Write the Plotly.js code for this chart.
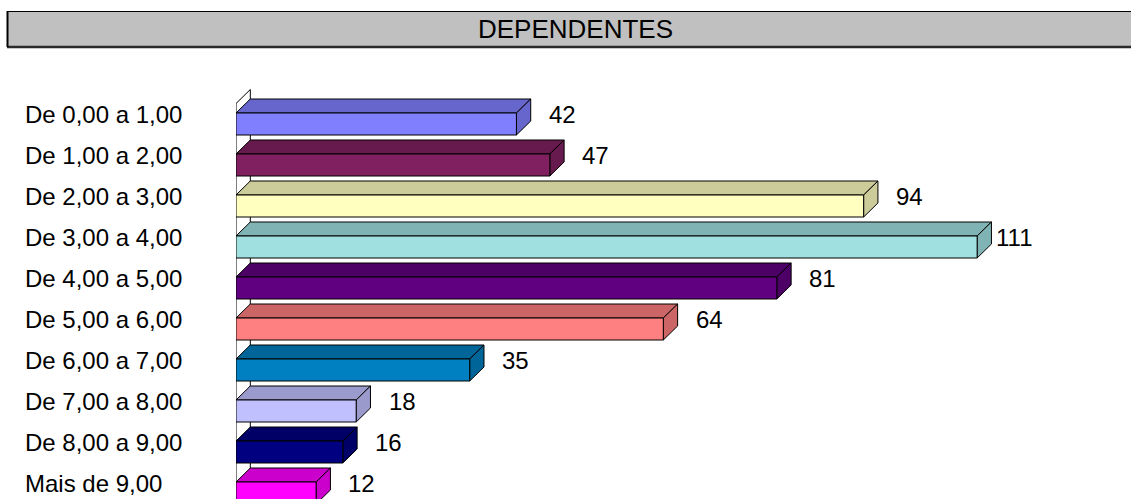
<!DOCTYPE html>
<html>
<head>
<meta charset="utf-8">
<script src="https://cdn.plot.ly/plotly-3.0.1.min.js"></script>
<style>
  html, body { margin: 0; padding: 0; background: #ffffff; }
  #chart { width: 1131px; height: 499px; }
</style>
</head>
<body>
<div id="chart"></div>
<script>
// ---- data ----
const categories = ['De 0,00 a 1,00', 'De 1,00 a 2,00', 'De 2,00 a 3,00', 'De 3,00 a 4,00', 'De 4,00 a 5,00',
                    'De 5,00 a 6,00', 'De 6,00 a 7,00', 'De 7,00 a 8,00', 'De 8,00 a 9,00', 'Mais de 9,00'];
const values = [42, 47, 94, 111, 81, 64, 35, 18, 16, 12];
const valueLabels = ['42', '47', '94', '111', '81', '64', '35', '18', '16', '12'];
const titleText = 'DEPENDENTES';

// ---- style ----
const frontColors = ['#8080FF', '#802060', '#FFFFC0', '#A0E0E0', '#600080',
                     '#FF8080', '#0080C0', '#C0C0FF', '#000080', '#FF00FF'];
const FONT = 'Liberation Sans, Arial, Helvetica, sans-serif';
const ML = 236, MR = 27, MT = 60, MB = 0, W = 1131, H = 499;
const XMAX = 130;                 // x range
const Y_TOP = -1.561, Y_BOT = 9.1463;
const pxPerX = (W - ML - MR) / XMAX;
const DX = 14.3 / pxPerX;         // depth in x units
const DY = 14 / 41;               // depth in y units (row = 41px)
const BH = 22 / 41;               // front face height in row units
const LABEL_GAP = 2.4;            // gap after bar back edge (x units)
const LABEL_MAX = 113.5;          // labels kept inside chart area

function shade(hex, f) {
  const n = parseInt(hex.slice(1), 16);
  const r = Math.round(((n >> 16) & 255) * f);
  const g = Math.round(((n >> 8) & 255) * f);
  const b = Math.round((n & 255) * f);
  return 'rgb(' + r + ',' + g + ',' + b + ')';
}

const traces = [];
function poly(xs, ys, fill) {
  traces.push({
    type: 'scatter', mode: 'lines', x: xs, y: ys, fill: 'toself',
    fillcolor: fill, line: { color: '#000000', width: 1 },
    hoverinfo: 'skip', showlegend: false
  });
}

// back wall
poly([0, DX, DX, 0, 0], [-0.5, -0.5 - DY, Y_BOT + 1, Y_BOT + 1, -0.5], '#ffffff');

// 3D bars
values.forEach((v, i) => {
  const top = i - BH / 2, bot = i + BH / 2;
  const dark = shade(frontColors[i], 0.8);
  // top face
  poly([0, DX, v + DX, v, 0], [top, top - DY, top - DY, top, top], dark);
  // side face
  poly([v, v + DX, v + DX, v, v], [top, top - DY, bot - DY, bot, top], dark);
  // front face
  poly([0, v, v, 0, 0], [top, top, bot, bot, top], frontColors[i]);
});

const annotations = [];
categories.forEach((c, i) => {
  annotations.push({
    text: c, xref: 'paper', yref: 'y', x: (23 - ML) / (W - ML - MR), y: i,
    xanchor: 'left', yanchor: 'middle', yshift: 10, showarrow: false,
    font: { family: FONT, size: 24, color: '#000000' }
  });
});
values.forEach((v, i) => {
  annotations.push({
    text: valueLabels[i], xref: 'x', yref: 'y',
    x: Math.min(v + DX + LABEL_GAP, LABEL_MAX), y: i,
    xanchor: 'left', yanchor: 'middle', yshift: 10, showarrow: false,
    font: { family: FONT, size: 24, color: '#000000' }
  });
});

const plotH = H - MT - MB, plotW = W - ML - MR;
const px2paperX = p => (p - ML) / plotW;
const px2paperY = p => (H - MB - p) / plotH;

const layout = {
  width: W, height: H,
  margin: { l: ML, r: MR, t: MT, b: MB, pad: 0 },
  paper_bgcolor: '#ffffff', plot_bgcolor: 'rgba(0,0,0,0)',
  showlegend: false, hovermode: false,
  title: {
    text: titleText, xref: 'container', yref: 'container',
    x: 575.5 / W, y: 1 - 29 / H, xanchor: 'center', yanchor: 'middle',
    font: { family: FONT, size: 26, color: '#000000' }
  },
  xaxis: { range: [0, XMAX], visible: false, fixedrange: true },
  yaxis: { range: [Y_BOT, Y_TOP], visible: false, fixedrange: true },
  shapes: [
    { type: 'rect', xref: 'paper', yref: 'paper', layer: 'below',
      x0: px2paperX(7.5), x1: px2paperX(1131), y0: px2paperY(46.5), y1: px2paperY(11),
      fillcolor: '#C0C0C0', line: { width: 0 } },
    { type: 'line', xref: 'paper', yref: 'paper', layer: 'below',
      x0: px2paperX(7.5), x1: px2paperX(1131), y0: px2paperY(11.5), y1: px2paperY(11.5),
      line: { color: '#000000', width: 1 } },
    { type: 'line', xref: 'paper', yref: 'paper', layer: 'below',
      x0: px2paperX(7), x1: px2paperX(1131), y0: px2paperY(47), y1: px2paperY(47),
      line: { color: '#2a2a2a', width: 2.5 } },
    { type: 'line', xref: 'paper', yref: 'paper', layer: 'below',
      x0: px2paperX(7.5), x1: px2paperX(7.5), y0: px2paperY(47), y1: px2paperY(11),
      line: { color: '#000000', width: 2 } }
  ],
  annotations: annotations
};

Plotly.newPlot('chart', traces, layout, { displayModeBar: false, staticPlot: true });
</script>
</body>
</html>
